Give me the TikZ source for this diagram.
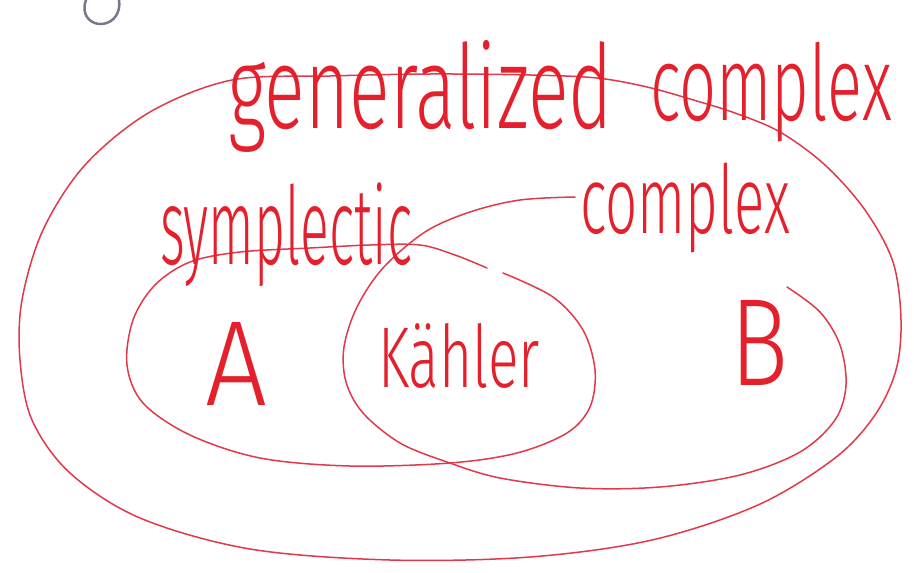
\documentclass[tikz,border=0pt]{standalone}
\usepackage{fontspec}
\setmainfont{Fira Sans}[UprightFont=* Light]
\usepackage{graphicx}
\definecolor{ink}{RGB}{228,32,44}
\definecolor{pen}{RGB}{226,56,76}
\definecolor{pencil}{RGB}{120,120,138}
\begin{document}
\begin{tikzpicture}[x=1pt,y=-1pt,
  curve/.style={draw=pen, line width=1.5pt, line cap=round, line join=round},
  lbl/.style={text=ink, inner sep=0pt, outer sep=0pt, anchor=north west}]
\useasboundingbox[fill=white] (0,0) rectangle (914,573);

% outer set: generalized complex
\draw[curve] plot[smooth cycle, tension=0.55] coordinates {(232,80) (330,76) (430,74) (530,75) (597,78) (647,87) (690,99) (735,113) (780,132) (825,165) (865,210) (893,262) (901,320) (896,370) (875,415) (835,458) (758,505) (652,540) (530,557) (390,560) (250,549) (140,518) (70,473) (32,420) (20,360) (22,300) (43,230) (85,165) (150,112)};

% symplectic
\draw[curve] plot[smooth, tension=0.55] coordinates {(503,273) (553,297) (583,330) (595,370) (590,407) (567,433) (517,453) (450,463) (350,466) (260,458) (190,435) (143,403) (127,365) (133,320) (155,285) (190,262) (240,252) (310,248) (370,245) (420,245) (455,255) (487,268)};

% complex
\draw[curve] plot[smooth, tension=0.55] coordinates {(575,197) (520,200) (470,212) (425,232) (383,268) (357,307) (344,347) (346,382) (363,413) (400,443) (447,462) (500,478) (580,488) (660,487) (740,475) (800,452) (835,420) (846,385) (840,345) (820,312) (787,287)};

% pencil fragment at top left
\draw[pencil, line width=2.5pt, line cap=round] (86,0) .. controls (80,16) and (92,25) .. (102,24) .. controls (114,23) and (121,12) .. (119,0);

% labels
\node[lbl] (gen) at (228,40) {\resizebox*{385pt}{112pt}{generalized}};
\node[lbl] (gcx) at (650,42) {\resizebox*{242pt}{100pt}{complex}};
\node[lbl] (sym) at (160,183) {\resizebox*{252pt}{104pt}{symplectic}};
\node[lbl] (cpx) at (580,163) {\resizebox*{210pt}{90pt}{complex}};
\node[lbl] (a) at (205,322) {\resizebox*{62pt}{83pt}{A}};
\node[lbl] (k) at (378,323) {\resizebox*{162pt}{65pt}{Kähler}};
\node[lbl] (b) at (730,300) {\resizebox*{58pt}{85pt}{B}};
\end{tikzpicture}
\end{document}
